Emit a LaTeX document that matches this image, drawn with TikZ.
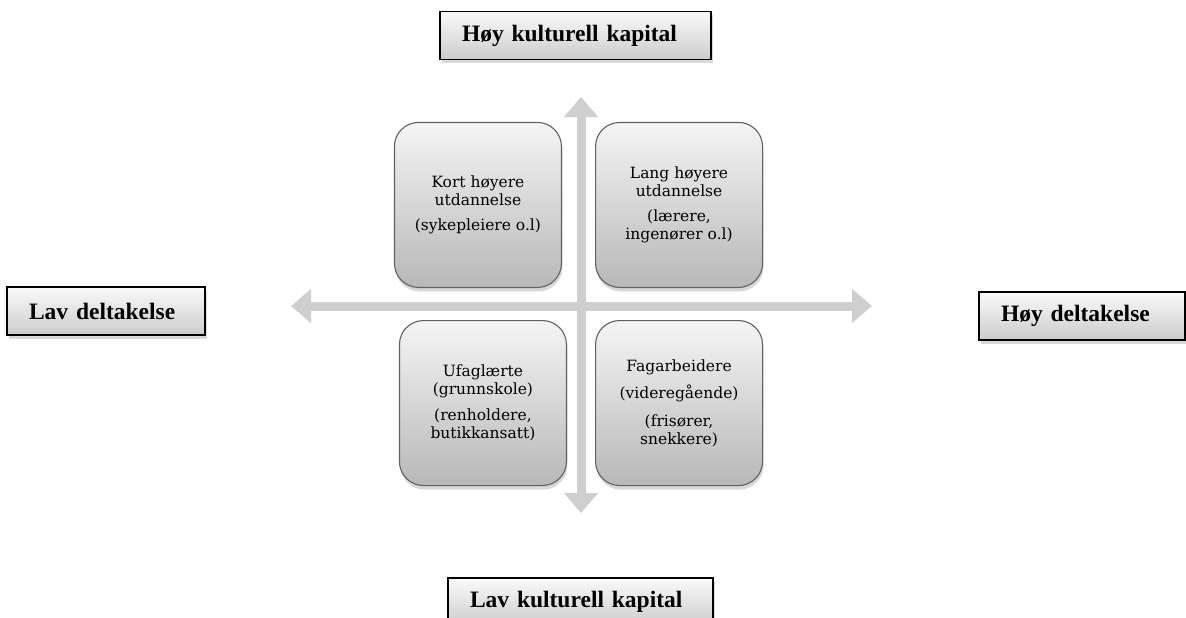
\documentclass[tikz,border=0pt]{standalone}
\usepackage{fontspec}
\setmainfont{DejaVu Serif}
\newfontfamily\polefont{Liberation Serif}
\usetikzlibrary{arrows.meta,shadows,positioning}

\tikzset{
  quad/.style={draw=black!62, line width=1.1pt, rounded corners=24pt,
    top color=black!4, bottom color=black!28,
    minimum width=167pt, minimum height=165pt, align=center,
    font=\fontsize{15.5}{18}\selectfont,
    drop shadow={shadow xshift=1pt, shadow yshift=-4pt, opacity=0.3}},
  pole/.style={draw=black, line width=1.6pt,
    top color=black!2, bottom color=black!20,
    minimum height=48pt, inner xsep=22pt, align=left,
    font=\polefont\bfseries\fontsize{23.5}{28}\selectfont,
    drop shadow={shadow xshift=2pt, shadow yshift=-4pt, opacity=0.3}},
  axis/.style={draw=black!19, fill=black!19, line width=9pt,
    {Triangle[width=33pt,length=20pt]}-{Triangle[width=33pt,length=20pt]}}
}

\begin{document}
\begin{tikzpicture}[x=1pt,y=-1pt]
  \clip (0,0) rectangle (1186,618);
  \fill[white] (0,0) rectangle (1186,618);

  % axes
  \coordinate (o) at (581,306);
  \coordinate (t) at (581,97);
  \coordinate (b) at (581,513);
  \coordinate (l) at (291,306);
  \coordinate (r) at (872,306);
  \draw[axis] (b) -- (t);
  \draw[axis] (l) -- (r);

  % quadrants
  \node (q1) [quad, above left=18pt and 19pt of o]
    {Kort høyere\\utdannelse\\[7pt](sykepleiere o.l)};
  \node (q2) [quad, above right=18pt and 14pt of o]
    {Lang høyere\\utdannelse\\[7pt](lærere,\\ingenører o.l)};
  \node (q3) [quad, below left=14pt and 14pt of o]
    {Ufaglærte\\(grunnskole)\\[8pt](renholdere,\\butikkansatt)};
  \node (q4) [quad, below right=14pt and 14pt of o]
    {Fagarbeidere\\[9pt](videregående)\\[10pt](frisører,\\snekkere)};

  % poles
  \node (hk) [pole, text width=227pt] at (575.5,35.5) {Høy kulturell kapital};
  \node (lk) [pole, text width=221pt] at (580.5,602) {Lav kulturell kapital};
  \node (ld) [pole, text width=154pt] at (106,311) {Lav deltakelse};
  \node (hd) [pole, text width=162pt] at (1082,316) {Høy deltakelse};
\end{tikzpicture}
\end{document}
